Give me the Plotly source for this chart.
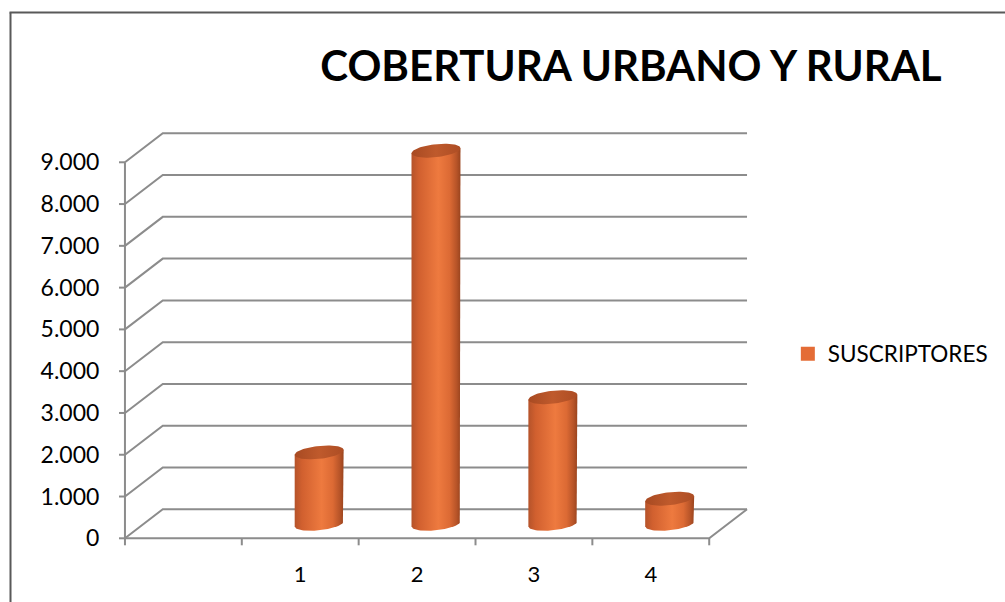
import numpy as np
import plotly.graph_objects as go

# ---------------- data ----------------
categories = ["", "1", "2", "3", "4"]
suscriptores = [None, 1710, 8930, 3030, 600]
series_name = "SUSCRIPTORES"
title_text = "COBERTURA URBANO Y RURAL"
y_ticks = [0, 1000, 2000, 3000, 4000, 5000, 6000, 7000, 8000, 9000]

# ---------------- layout geometry (pixels) ----------------
W, H = 1005, 602
L_PX, R_PX, T_PX, B_PX = 117, 756, 126, 548       # plot area edges
X0_PX, X_UNIT = 125, 117.4                         # front axis start, px per category
Y0_PX, Y_UNIT = 538.3, 41.78 / 1000                # px of value 0, px per unit
DX_PX, DY_PX = 38, 29                              # 3D depth offset

DX = DX_PX / X_UNIT
DY = DY_PX / Y_UNIT
n = len(categories)
x_lo, x_hi = -0.5, n - 0.5
xr = [x_lo - (X0_PX - L_PX) / X_UNIT, x_lo + (R_PX - X0_PX) / X_UNIT]
yr = [-(B_PX - Y0_PX) / Y_UNIT, (Y0_PX - T_PX) / Y_UNIT]

GRID = "#8c8c8c"
BAR_HALF = 24.6 / X_UNIT
CAP_B = 6.5 / Y_UNIT
SHEAR = 2.5 / Y_UNIT

fig = go.Figure()

# back wall gridlines with diagonal connectors
gx, gy = [], []
for v in y_ticks:
    gx += [x_lo, x_lo + DX, x_hi + DX, None]
    gy += [v, v + DY, v + DY, None]
fig.add_trace(go.Scatter(x=gx, y=gy, mode="lines", line=dict(color=GRID, width=2),
                         hoverinfo="skip", showlegend=False))

# front axes (floor front edge + right side, vertical value axis) and tick marks
ax, ay = [x_lo, x_hi, x_hi + DX, None, x_lo, x_lo], [0, 0, DY, None, 0, y_ticks[-1]]
tl_y = 7 / Y_UNIT
for i in range(n + 1):
    ax += [None, x_lo + i, x_lo + i]
    ay += [None, 0, -tl_y]
tl_x = 6 / X_UNIT
for v in y_ticks:
    ax += [None, x_lo, x_lo - tl_x]
    ay += [None, v, v]
fig.add_trace(go.Scatter(x=ax, y=ay, mode="lines", line=dict(color=GRID, width=2),
                         hoverinfo="skip", showlegend=False))

body_scale = [[0.0, "#b5532a"], [0.15, "#d1602f"], [0.55, "#ee7a3f"],
              [0.78, "#dc6a34"], [0.92, "#b75428"], [1.0, "#9a441e"]]
top_scale = [[0.0, "#a84a22"], [0.5, "#bf5a2c"], [1.0, "#ad4d24"]]

t_bot = np.linspace(0, -np.pi, 40)
t_all = np.linspace(0, 2 * np.pi, 80)
for i, v in enumerate(suscriptores):
    if v is None:
        continue
    cx = i + DX / 2
    y0 = DY / 2
    y1 = v + DY / 2
    bx = [cx - BAR_HALF, cx - BAR_HALF, cx + BAR_HALF, cx + BAR_HALF]
    by = [y0 - SHEAR, y1 - SHEAR, y1 + SHEAR, y0 + SHEAR]
    bx += list(cx + BAR_HALF * np.cos(t_bot))
    by += list(y0 + CAP_B * np.sin(t_bot) + SHEAR * np.cos(t_bot))
    fig.add_trace(go.Scatter(x=bx, y=by, mode="lines", fill="toself",
                             line=dict(width=0),
                             fillgradient=dict(type="horizontal", colorscale=body_scale),
                             hovertemplate=f"{categories[i]}: {v}<extra></extra>",
                             showlegend=False))
    tx = cx + BAR_HALF * np.cos(t_all)
    ty = y1 + CAP_B * np.sin(t_all) + SHEAR * np.cos(t_all)
    fig.add_trace(go.Scatter(x=tx, y=ty, mode="lines", fill="toself",
                             line=dict(width=0),
                             fillgradient=dict(type="horizontal", colorscale=top_scale),
                             hoverinfo="skip", showlegend=False))

# legend entry
fig.add_trace(go.Scatter(x=[None], y=[None], mode="markers", name=series_name,
                         marker=dict(symbol="square", size=14, color="#e46c36")))

pw, ph = R_PX - L_PX, B_PX - T_PX


def px_x(p):
    return (p - L_PX) / pw


def px_y(p):
    return (B_PX - p) / ph


# outer chart frame
frame = dict(color="#595959", width=2)
fig.add_shape(type="line", xref="paper", yref="paper", x0=px_x(10), x1=px_x(10),
              y0=px_y(12.5), y1=px_y(610), line=frame)
fig.add_shape(type="line", xref="paper", yref="paper", x0=px_x(9), x1=px_x(1010),
              y0=px_y(12.5), y1=px_y(12.5), line=frame)

FONT = "Lato, Carlito, Calibri, sans-serif"
fig.update_layout(
    width=W, height=H,
    margin=dict(l=L_PX, r=W - R_PX, t=T_PX, b=H - B_PX, pad=0),
    paper_bgcolor="white", plot_bgcolor="white",
    separators=",.",
    font=dict(family=FONT, size=20, color="#000000"),
    title=dict(text=f"<b>{title_text}</b>", font=dict(family=FONT, size=42, color="#000000"),
               x=631 / W, xanchor="center", xref="container",
               y=1 - 66 / H, yanchor="middle", yref="container"),
    xaxis=dict(range=xr, showgrid=False, zeroline=False, showline=False,
               tickmode="array", tickvals=list(range(n)), ticktext=categories,
               ticks="outside", ticklen=7, tickcolor="rgba(0,0,0,0)",
               tickfont=dict(size=22), fixedrange=True),
    yaxis=dict(range=yr, showgrid=False, zeroline=False, showline=False,
               tickmode="array", tickvals=y_ticks, tickformat=",d",
               ticks="outside", ticklen=12, tickcolor="rgba(0,0,0,0)",
               tickfont=dict(size=23), fixedrange=True),
    legend=dict(x=px_x(791), xanchor="left", y=px_y(354), yanchor="middle",
                font=dict(size=22.5), bgcolor="rgba(0,0,0,0)"),
    showlegend=True,
)

fig.write_html("out.html", config={"displayModeBar": False},
               post_script="document.body.style.margin='0px';")
